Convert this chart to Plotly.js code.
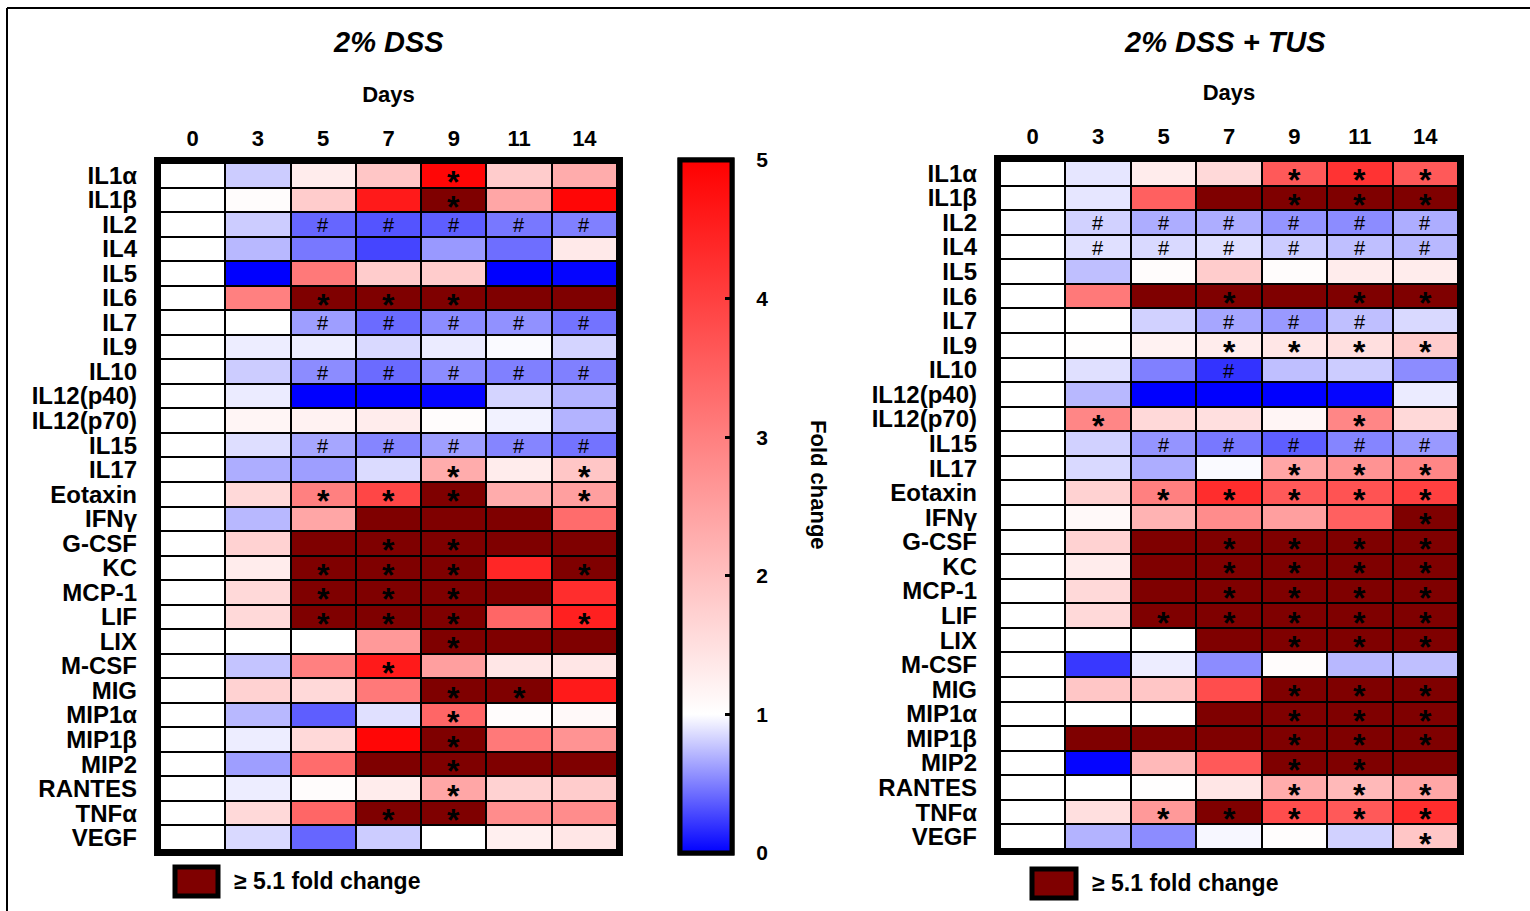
<!DOCTYPE html>
<html>
<head>
<meta charset="utf-8">
<script src="https://cdn.plot.ly/plotly-3.0.1.min.js"></script>
<style>html,body{margin:0;padding:0;background:#fff;}#chart{width:1530px;height:911px;}</style>
</head>
<body>
<div id="chart"></div>
<script>
const days = ["0", "3", "5", "7", "9", "11", "14"];
const cytokines = ["IL1α","IL1β","IL2","IL4","IL5","IL6","IL7","IL9","IL10","IL12(p40)","IL12(p70)","IL15","IL17","Eotaxin","IFNγ","G-CSF","KC","MCP-1","LIF","LIX","M-CSF","MIG","MIP1α","MIP1β","MIP2","RANTES","TNFα","VEGF"];

// Fold change, 2% DSS (values >= 5.1 shown in dark red)
const dssValues = [
  [1, 0.80, 1.30, 1.90, 4.90, 1.80, 2.30],
  [1, 1.05, 1.80, 4.60, 6.00, 2.40, 4.90],
  [1, 0.80, 0.40, 0.33, 0.37, 0.47, 0.50],
  [1, 0.72, 0.47, 0.27, 0.60, 0.43, 1.35],
  [1, 0.00, 3.10, 1.80, 1.80, 0.00, 0.02],
  [1, 3.00, 6.00, 6.00, 6.00, 6.00, 6.00],
  [1, 1.00, 0.62, 0.42, 0.55, 0.57, 0.45],
  [1, 0.93, 0.93, 0.85, 0.92, 0.98, 0.83],
  [1, 0.80, 0.55, 0.42, 0.55, 0.50, 0.50],
  [1, 0.92, 0.00, 0.00, 0.02, 0.83, 0.70],
  [1, 1.15, 1.20, 1.30, 1.05, 0.95, 0.70],
  [1, 0.87, 0.65, 0.52, 0.62, 0.52, 0.45],
  [1, 0.68, 0.62, 0.86, 2.30, 1.30, 1.90],
  [1, 1.60, 3.00, 3.90, 6.00, 2.30, 2.50],
  [1, 0.72, 2.40, 6.00, 6.00, 6.00, 3.30],
  [1, 1.70, 6.00, 6.00, 6.00, 6.00, 6.00],
  [1, 1.30, 6.00, 6.00, 6.00, 4.40, 6.00],
  [1, 1.60, 6.00, 6.00, 6.00, 6.00, 4.30],
  [1, 1.60, 6.00, 6.00, 6.00, 3.40, 4.50],
  [1, 1.00, 1.00, 2.60, 6.00, 6.00, 6.00],
  [1, 0.77, 3.00, 4.60, 2.50, 1.40, 1.40],
  [1, 1.70, 1.60, 3.10, 6.00, 6.00, 4.60],
  [1, 0.72, 0.37, 0.88, 3.40, 1.05, 1.10],
  [1, 0.93, 1.60, 4.90, 6.00, 3.10, 2.70],
  [1, 0.62, 3.30, 6.00, 6.00, 6.00, 6.00],
  [1, 0.93, 1.05, 1.30, 2.40, 1.70, 1.80],
  [1, 1.60, 3.40, 6.00, 6.00, 2.80, 2.80],
  [1, 0.85, 0.40, 0.80, 1.00, 1.25, 1.40]
];

// Fold change, 2% DSS + TUS
const tusValues = [
  [1, 0.90, 1.30, 1.60, 3.60, 4.20, 3.60],
  [1, 0.90, 3.50, 6.00, 6.00, 6.00, 6.00],
  [1, 0.82, 0.68, 0.68, 0.58, 0.55, 0.68],
  [1, 0.88, 0.85, 0.87, 0.80, 0.75, 0.72],
  [1, 0.75, 1.05, 1.80, 1.05, 1.30, 1.30],
  [1, 3.10, 6.00, 6.00, 6.00, 6.00, 6.00],
  [1, 1.00, 0.82, 0.65, 0.60, 0.75, 0.85],
  [1, 1.02, 1.20, 1.30, 1.40, 1.50, 1.80],
  [1, 0.88, 0.50, 0.20, 0.75, 0.80, 0.55],
  [1, 0.72, 0.00, 0.00, 0.00, 0.02, 0.92],
  [1, 2.90, 1.60, 1.50, 1.15, 2.90, 1.60],
  [1, 0.82, 0.58, 0.47, 0.37, 0.52, 0.60],
  [1, 0.85, 0.68, 0.98, 2.40, 2.70, 2.90],
  [1, 1.70, 3.00, 4.30, 3.60, 3.70, 4.00],
  [1, 1.10, 2.20, 2.80, 2.50, 3.50, 6.00],
  [1, 1.70, 6.00, 6.00, 6.00, 6.00, 6.00],
  [1, 1.30, 6.00, 6.00, 6.00, 6.00, 6.00],
  [1, 1.60, 6.00, 6.00, 6.00, 6.00, 6.00],
  [1, 1.60, 6.00, 6.00, 6.00, 6.00, 6.00],
  [1, 1.00, 1.00, 6.00, 6.00, 6.00, 6.00],
  [1, 0.22, 0.93, 0.55, 1.05, 0.72, 0.75],
  [1, 1.90, 1.90, 3.80, 6.00, 6.00, 6.00],
  [1, 1.00, 1.00, 6.00, 6.00, 6.00, 6.00],
  [1, 6.00, 6.00, 6.00, 6.00, 6.00, 6.00],
  [1, 0.02, 2.10, 3.60, 6.00, 6.00, 6.00],
  [1, 1.00, 1.02, 1.40, 2.30, 2.10, 2.40],
  [1, 1.50, 2.60, 6.00, 3.80, 3.60, 4.30],
  [1, 0.70, 0.55, 0.97, 1.03, 0.82, 1.90]
];

// Significance marks per row ('.' = none, '*' = increase, '#' = decrease)
const dssMarks = ["....*..","....*..","..#####",".......",".......","..***..","..#####",".......","..#####",".......",".......","..#####","....*.*","..***.*",".......","...**..","..***.*","..***..","..***.*","....*..","...*...","....**.","....*..","....*..","....*..","....*..","...**..","......."];
const tusMarks = ["....***","....***",".######",".######",".......","...*.**","...###.","...****","...#...",".......",".*...*.","..#####","....***","..*****","......*","...****","...****","...****","..*****","....***",".......","....***","....***","....***","....**.","....***","..*****","......*"];

const colorbarTicks = [0, 1, 2, 3, 4, 5];
const threshold = 5.1;

const FONT = "Liberation Sans, Arial, sans-serif";
const scale = [[0, "rgb(0,0,255)"], [0.2, "rgb(255,255,255)"], [1, "rgb(255,0,0)"]];

function overMask(vals) {
  return vals.map(r => r.map(v => (v >= threshold ? v : null)));
}

const cbBase = {
  x: 680 / 1530, xanchor: "left", xpad: 0, ypad: 0,
  y: (911 - 506.5) / 911, yanchor: "middle", len: 693 / 911, lenmode: "fraction",
  thickness: 52, outlinewidth: 5, outlinecolor: "black", tickvals: colorbarTicks,
  tickfont: {family: FONT, size: 21, weight: "bold", color: "black"}
};
// colorbar with inner tick marks (no labels)
const cbTicks = Object.assign({}, cbBase, {ticks: "inside", ticklen: 9, tickwidth: 3, tickcolor: "black", showticklabels: false});
// colorbar carrying the labels, pushed outward by invisible ticks
const cbLabels = Object.assign({}, cbBase, {ticks: "outside", ticklen: 18, tickwidth: 1, tickcolor: "rgba(0,0,0,0)", showticklabels: true});

function heat(vals, xa, ya, cb) {
  return {
    type: "heatmap", x: days, y: cytokines, z: vals, xaxis: xa, yaxis: ya,
    zmin: 0, zmax: 5, colorscale: scale, xgap: 2, ygap: 2, hoverinfo: "skip",
    showscale: true, colorbar: cb
  };
}
function dark(vals, xa, ya) {
  return {
    type: "heatmap", x: days, y: cytokines, z: overMask(vals), xaxis: xa, yaxis: ya,
    zmin: 0, zmax: 10, colorscale: [[0, "#7f0000"], [1, "#7f0000"]], xgap: 2, ygap: 2,
    showscale: false, hoverinfo: "skip"
  };
}

const traces = [
  heat(dssValues, "x", "y", cbLabels), dark(dssValues, "x", "y"),
  heat(tusValues, "x2", "y2", cbTicks), dark(tusValues, "x2", "y2")
];

const annotations = [];
function addMarks(marks, xa, ya) {
  marks.forEach((row, i) => {
    row.split("").forEach((m, j) => {
      if (m === ".") return;
      annotations.push({
        x: j, y: i, xref: xa, yref: ya, text: m, showarrow: false,
        xanchor: "center", yanchor: "middle",
        font: m === "*" ? {family: FONT, size: 32, weight: "bold", color: "black"} : {family: FONT, size: 20, color: "black"},
        yshift: m === "*" ? -7 : -1
      });
    });
  });
}
addMarks(dssMarks, "x", "y");
addMarks(tusMarks, "x2", "y2");

function px(x) { return x / 1530; }
function py(y) { return (911 - y) / 911; }

function paperText(x, y, text, font, extra) {
  return Object.assign({x: px(x), y: py(y), xref: "paper", yref: "paper", text: text, showarrow: false,
    xanchor: "center", yanchor: "middle", font: font}, extra || {});
}

annotations.push(
  paperText(388, 42, "2% DSS", {family: FONT, size: 29, weight: "bold", style: "italic", color: "black"}),
  paperText(1225, 42, "2% DSS + TUS", {family: FONT, size: 29, weight: "bold", style: "italic", color: "black"}),
  paperText(818, 485, "Fold change", {family: FONT, size: 22, weight: "bold", color: "black"}, {textangle: 90}),
  paperText(232, 881, "≥ 5.1 fold change", {family: FONT, size: 23, weight: "bold", color: "black"}, {xanchor: "left"}),
  paperText(1090, 883, "≥ 5.1 fold change", {family: FONT, size: 23, weight: "bold", color: "black"}, {xanchor: "left"})
);

const shapes = [
  // heavy plot borders
  {type: "rect", xref: "x domain", yref: "y domain", x0: -0.0065, x1: 1.0065, y0: -0.0045, y1: 1.0045, line: {color: "black", width: 6}},
  {type: "rect", xref: "x2 domain", yref: "y2 domain", x0: -0.0065, x1: 1.0065, y0: -0.0045, y1: 1.0045, line: {color: "black", width: 6}},
  // legend swatches
  {type: "rect", xref: "paper", yref: "paper", x0: px(175), x1: px(218), y0: py(896), y1: py(867), fillcolor: "#7f0000", line: {color: "black", width: 5}},
  {type: "rect", xref: "paper", yref: "paper", x0: px(1032), x1: px(1076), y0: py(898), y1: py(869), fillcolor: "#7f0000", line: {color: "black", width: 5}},
  // figure frame (top and left)
  {type: "line", xref: "paper", yref: "paper", x0: px(7), x1: 1, y0: py(8), y1: py(8), line: {color: "black", width: 2}},
  {type: "line", xref: "paper", yref: "paper", x0: px(7), x1: px(7), y0: py(8), y1: 0, line: {color: "black", width: 2}}
];

function xax(domain, anchor) {
  return {
    domain: domain, anchor: anchor, type: "category", side: "top", showgrid: false, zeroline: false,
    range: [-0.5, days.length - 0.5], tickmode: "array", tickvals: days,
    ticks: "", ticklabelstandoff: 12, showline: false, fixedrange: true,
    tickfont: {family: FONT, size: 22, weight: "bold", color: "black"},
    title: {text: "Days", standoff: 16, font: {family: FONT, size: 22, weight: "bold", color: "black"}}
  };
}
function yax(domain, anchor) {
  return {
    domain: domain, anchor: anchor, type: "category", showgrid: false, zeroline: false,
    range: [cytokines.length - 0.5, -0.5], tickmode: "array", tickvals: cytokines,
    ticks: "", ticklabelstandoff: 22, showline: false, fixedrange: true,
    tickfont: {family: FONT, size: 24, weight: "bold", color: "black"}
  };
}

const layout = {
  width: 1530, height: 911, margin: {l: 0, r: 0, t: 0, b: 0},
  paper_bgcolor: "white", plot_bgcolor: "black", showlegend: false,
  xaxis: xax([px(160), px(617)], "y"),
  yaxis: yax([py(850), py(163)], "x"),
  xaxis2: xax([px(1000), px(1458)], "y2"),
  yaxis2: yax([py(849), py(161)], "x2"),
  annotations: annotations, shapes: shapes
};

Plotly.newPlot("chart", traces, layout, {displayModeBar: false, staticPlot: true});
</script>
</body>
</html>
